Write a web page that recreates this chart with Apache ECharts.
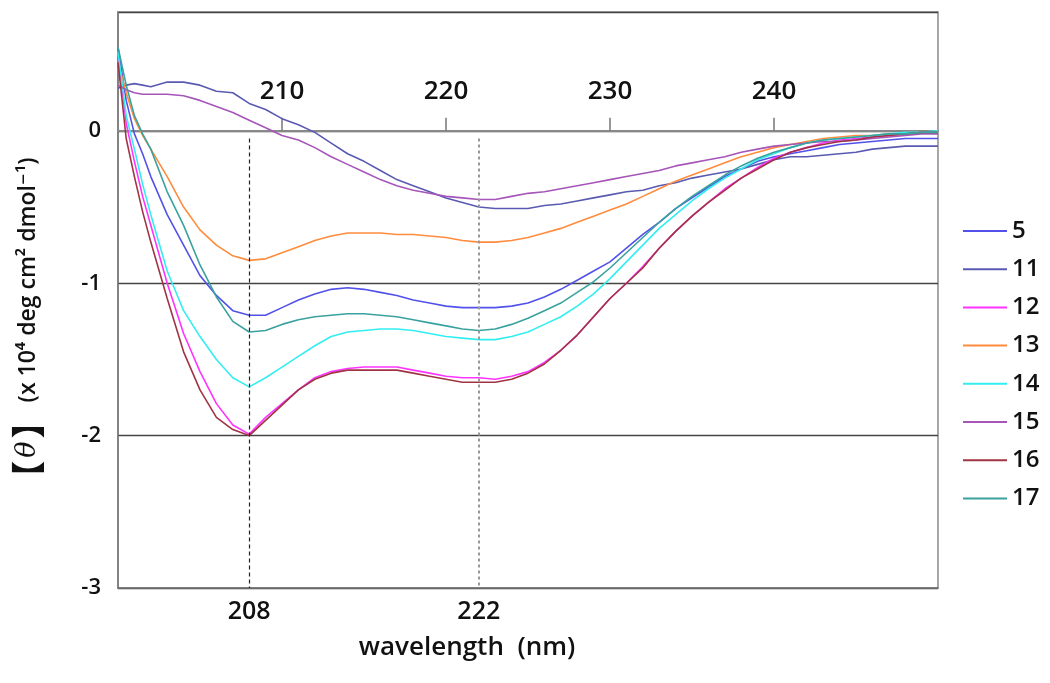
<!DOCTYPE html>
<html>
<head>
<meta charset="utf-8">
<script src="https://cdn.jsdelivr.net/npm/echarts@6/dist/echarts.min.js"></script>
<style>
html,body{margin:0;padding:0;background:#fff;}
#chart{width:1050px;height:683px;}
</style>
</head>
<body>
<div id="chart"></div>
<script>
const wavelengths = [200, 200.5, 201, 201.5, 202, 203, 204, 205, 206, 207, 208, 209, 210, 211, 212, 213, 214, 215, 216, 217, 218, 219, 220, 221, 222, 223, 224, 225, 226, 227, 228, 229, 230, 231, 232, 233, 234, 235, 236, 237, 238, 239, 240, 241, 242, 243, 244, 245, 246, 247, 248, 249, 250];

const seriesNames = ['5', '11', '12', '13', '14', '15', '16', '17'];
const seriesColors = ['#5252ea', '#5a5ab2', '#ff33ff', '#ff8c3c', '#33eef0', '#a655b8', '#a03444', '#3aa29e'];

const s5  = [0.55, 0.2, -0.02, -0.15, -0.3, -0.55, -0.75, -0.95, -1.08, -1.18, -1.21, -1.21, -1.16, -1.11, -1.07, -1.04, -1.03, -1.04, -1.06, -1.08, -1.11, -1.13, -1.15, -1.16, -1.16, -1.16, -1.15, -1.13, -1.09, -1.04, -0.98, -0.92, -0.86, -0.77, -0.68, -0.6, -0.51, -0.44, -0.37, -0.3, -0.25, -0.2, -0.17, -0.15, -0.13, -0.11, -0.09, -0.08, -0.07, -0.06, -0.05, -0.05, -0.05];
const s11 = [0.28, 0.3, 0.31, 0.3, 0.29, 0.32, 0.32, 0.3, 0.26, 0.25, 0.18, 0.14, 0.08, 0.04, -0.01, -0.08, -0.15, -0.2, -0.26, -0.32, -0.36, -0.4, -0.44, -0.47, -0.5, -0.51, -0.51, -0.51, -0.49, -0.48, -0.46, -0.44, -0.42, -0.4, -0.39, -0.36, -0.34, -0.31, -0.29, -0.27, -0.25, -0.22, -0.19, -0.17, -0.17, -0.16, -0.15, -0.14, -0.12, -0.11, -0.1, -0.1, -0.1];
const s12 = [0.5, 0.05, -0.2, -0.43, -0.62, -1.0, -1.33, -1.58, -1.79, -1.93, -1.99, -1.88, -1.79, -1.7, -1.62, -1.58, -1.56, -1.55, -1.55, -1.55, -1.57, -1.59, -1.61, -1.62, -1.62, -1.63, -1.61, -1.58, -1.52, -1.44, -1.34, -1.22, -1.1, -1.0, -0.89, -0.77, -0.66, -0.56, -0.47, -0.38, -0.31, -0.24, -0.18, -0.14, -0.11, -0.08, -0.06, -0.05, -0.04, -0.03, -0.02, -0.01, -0.01];
const s13 = [0.45, 0.25, 0.08, -0.03, -0.12, -0.3, -0.5, -0.65, -0.75, -0.82, -0.85, -0.84, -0.8, -0.76, -0.72, -0.69, -0.67, -0.67, -0.67, -0.68, -0.68, -0.69, -0.7, -0.72, -0.73, -0.73, -0.72, -0.7, -0.67, -0.64, -0.6, -0.56, -0.52, -0.48, -0.43, -0.38, -0.33, -0.29, -0.25, -0.21, -0.17, -0.14, -0.11, -0.09, -0.07, -0.05, -0.04, -0.03, -0.03, -0.02, -0.02, -0.01, -0.01];
const s14 = [0.52, 0.1, -0.12, -0.35, -0.55, -0.92, -1.18, -1.35, -1.5, -1.62, -1.68, -1.62, -1.55, -1.48, -1.41, -1.35, -1.32, -1.31, -1.3, -1.3, -1.31, -1.33, -1.35, -1.36, -1.37, -1.37, -1.35, -1.32, -1.27, -1.22, -1.15, -1.07, -0.97, -0.86, -0.75, -0.64, -0.55, -0.46, -0.38, -0.31, -0.25, -0.19, -0.15, -0.11, -0.08, -0.06, -0.05, -0.04, -0.03, -0.02, -0.01, -0.01, 0.0];
const s15 = [0.3, 0.27, 0.25, 0.24, 0.24, 0.24, 0.23, 0.2, 0.16, 0.12, 0.07, 0.02, -0.03, -0.06, -0.11, -0.17, -0.22, -0.27, -0.32, -0.36, -0.39, -0.41, -0.43, -0.44, -0.45, -0.45, -0.43, -0.41, -0.4, -0.38, -0.36, -0.34, -0.32, -0.3, -0.28, -0.26, -0.23, -0.21, -0.19, -0.17, -0.14, -0.12, -0.1, -0.09, -0.08, -0.07, -0.07, -0.06, -0.05, -0.04, -0.03, -0.02, -0.02];
const s16 = [0.45, -0.05, -0.3, -0.53, -0.73, -1.1, -1.45, -1.7, -1.88, -1.96, -2.0, -1.9, -1.8, -1.7, -1.63, -1.59, -1.57, -1.57, -1.57, -1.57, -1.59, -1.61, -1.63, -1.65, -1.65, -1.65, -1.63, -1.59, -1.53, -1.44, -1.34, -1.22, -1.1, -1.0, -0.9, -0.77, -0.66, -0.56, -0.47, -0.39, -0.31, -0.25, -0.19, -0.14, -0.11, -0.09, -0.07, -0.06, -0.04, -0.03, -0.02, -0.01, -0.01];
const s17 = [0.55, 0.3, 0.1, -0.02, -0.12, -0.4, -0.62, -0.88, -1.09, -1.25, -1.32, -1.31, -1.27, -1.24, -1.22, -1.21, -1.2, -1.2, -1.21, -1.22, -1.24, -1.26, -1.28, -1.3, -1.31, -1.3, -1.27, -1.23, -1.18, -1.13, -1.06, -0.99, -0.9, -0.8, -0.7, -0.6, -0.51, -0.43, -0.36, -0.29, -0.23, -0.18, -0.14, -0.11, -0.08, -0.06, -0.05, -0.04, -0.03, -0.02, -0.02, -0.01, -0.01];

const seriesValues = [s5, s11, s12, s13, s14, s15, s16, s17];

const topTickValues = [210, 220, 230, 240];
const bottomTickValues = [208, 222];
const yTickValues = [-3, -2, -1, 0];

const FONT = '"Open Sans", "DejaVu Sans", sans-serif';
const Y_MIN = -3, Y_MAX = 0.78;
const GRID_TOP = 12, GRID_BOTTOM = 95, CHART_H = 683;

const chart = echarts.init(document.getElementById('chart'), null, {renderer: 'canvas'});

const series = seriesNames.map((name, k) => ({
  name: name,
  type: 'line',
  xAxisIndex: 0,
  yAxisIndex: 0,
  showSymbol: false,
  symbol: 'none',
  smooth: false,
  color: seriesColors[k],
  lineStyle: {width: 1.6, color: seriesColors[k]},
  data: wavelengths.map((w, i) => [w, seriesValues[k][i]]),
  z: 3
}));

series.push({
  name: 'guides',
  type: 'line',
  data: [],
  silent: true,
  markLine: {
    silent: true,
    symbol: ['none', 'none'],
    label: {show: false},
    data: [
      [{coord: [bottomTickValues[0], -0.05], lineStyle: {color: '#222', type: [4, 3], width: 1.2}},
       {coord: [bottomTickValues[0], -3]}],
      [{coord: [bottomTickValues[1], -0.05], lineStyle: {color: '#999', type: [3, 3], width: 2}},
       {coord: [bottomTickValues[1], -3]}]
    ]
  },
  z: 2
});

// offset that moves the top axis from the grid top down to the value 0
const plotH = CHART_H - GRID_TOP - GRID_BOTTOM;
const zeroOffset = -(Y_MAX / (Y_MAX - Y_MIN)) * plotH;

const option = {
  animation: false,
  backgroundColor: '#fff',
  grid: {
    left: 118, right: 112, top: GRID_TOP, bottom: GRID_BOTTOM,
    outerBoundsMode: 'none',
    containLabel: false,
    show: true, borderColor: '#8a8a8a', borderWidth: 1.5, backgroundColor: 'transparent'
  },
  legend: {
    orient: 'vertical',
    left: 958,
    top: 214,
    data: seriesNames,
    icon: 'rect',
    itemWidth: 44,
    itemHeight: 2,
    itemGap: 14.2,
    textStyle: {fontFamily: FONT, fontSize: 24, fontWeight: 600, color: '#111', lineHeight: 22, padding: [0, 0, 0, 0]},
    inactiveColor: '#ccc'
  },
  xAxis: [
    {
      type: 'value',
      position: 'bottom',
      min: 200, max: 250,
      axisLine: {show: true, onZero: false, lineStyle: {color: '#777', width: 1.5}},
      axisTick: {show: false},
      splitLine: {show: false},
      axisLabel: {
        customValues: bottomTickValues,
        fontFamily: FONT, fontSize: 25, fontWeight: 600, color: '#111', margin: 11
      }
    },
    {
      type: 'value',
      position: 'top',
      min: 200, max: 250,
      offset: zeroOffset,
      axisLine: {show: true, onZero: false, lineStyle: {color: '#888', width: 2}},
      axisTick: {show: true, customValues: topTickValues, length: 13, lineStyle: {color: '#777', width: 1.5}},
      splitLine: {show: false},
      axisLabel: {
        customValues: topTickValues,
        fontFamily: FONT, fontSize: 26, fontWeight: 600, color: '#111', margin: 26
      }
    }
  ],
  yAxis: {
    type: 'value',
    min: Y_MIN, max: Y_MAX,
    interval: 1,
    axisLine: {show: true, lineStyle: {color: '#777', width: 1.5}},
    axisTick: {show: false},
    splitLine: {show: true, lineStyle: {color: '#444', width: 1.3}},
    axisLabel: {
      customValues: yTickValues,
      fontFamily: FONT, fontSize: 22, fontWeight: 600, color: '#111', margin: 17
    },
    name: '{b|【}{t|θ}{b|】}{n|(x 10⁴ deg cm² dmol⁻¹)}',
    nameLocation: 'middle',
    nameGap: 73,
    nameTextStyle: {
      padding: [0, 52, 0, 0],
      rich: {
        b: {fontFamily: '"Noto Sans CJK SC", sans-serif', fontSize: 34, fontWeight: 'bold', color: '#111'},
        t: {fontFamily: '"DejaVu Serif", "Noto Sans", serif', fontStyle: 'italic', fontSize: 27, color: '#111', padding: [0, 3, 0, 3]},
        n: {fontFamily: FONT, fontSize: 23, fontWeight: 600, color: '#111', padding: [0, 0, 0, 2]}
      }
    }
  },
  graphic: [
    {
      type: 'text',
      x: 467, y: 648,
      style: {
        text: 'wavelength  (nm)',
        fontFamily: FONT, fontSize: 26, fontWeight: 600, fill: '#111',
        align: 'center', verticalAlign: 'middle'
      }
    }
  ],
  series: series
};

chart.setOption(option);
</script>
</body>
</html>
